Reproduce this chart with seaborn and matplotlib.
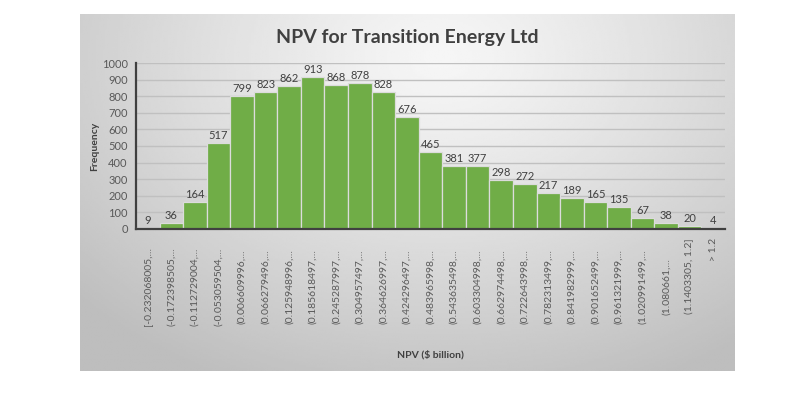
import numpy as np
import pandas as pd
import matplotlib
matplotlib.use("Agg")
import matplotlib.pyplot as plt
import matplotlib.transforms as mtransforms
import seaborn as sns

bins = ["[-0.232068005,...", "(-0.172398505,...", "(-0.112729004,...", "(-0.053059504,...",
        "(0.006609996,...", "(0.066279496,...", "(0.125948996,...", "(0.185618497,...",
        "(0.245287997,...", "(0.304957497,...", "(0.364626997,...", "(0.424296497,...",
        "(0.483965998,...", "(0.543635498,...", "(0.603304998,...", "(0.662974498,...",
        "(0.722643998,...", "(0.782313499,...", "(0.841982999,...", "(0.901652499,...",
        "(0.961321999,...", "(1.020991499,...", "(1.080661,...", "(1.1403305, 1.2]", "> 1.2"]
freq = [9, 36, 164, 517, 799, 823, 862, 913, 868, 878, 828, 676,
        465, 381, 377, 298, 272, 217, 189, 165, 135, 67, 38, 20, 4]

title = "NPV for Transition Energy Ltd"
xlabel = "NPV ($ billion)"
ylabel = "Frequency"

sns.set_theme(style="white")
plt.rcParams['font.family'] = ['Lato', 'DejaVu Sans']

W, H = 793, 397
fig = plt.figure(figsize=(W / 100, H / 100), dpi=100)
fig.patch.set_facecolor("white")

# gradient background panel
bx0, bx1, by0, by1 = 80, 735, 14, 371
bg = fig.add_axes([bx0 / W, 1 - by1 / H, (bx1 - bx0) / W, (by1 - by0) / H])
gx, gy = np.meshgrid(np.linspace(0, 1, 300), np.linspace(0, 1, 200))
r = np.sqrt(((gx - 0.55) / 0.75) ** 2 + ((gy - 0.12) / 1.0) ** 2)
r = np.clip(r, 0, 1)
val = 0.965 - (0.965 - 0.745) * r ** 1.2
bg.imshow(val, cmap="gray", vmin=0, vmax=1, aspect="auto", extent=[0, 1, 1, 0],
          interpolation="bilinear")
bg.set_axis_off()

# main axes
ax_l, ax_r, ax_b, ax_t = 136, 725, 229, 63
ax = fig.add_axes([ax_l / W, 1 - ax_b / H, (ax_r - ax_l) / W, (ax_b - ax_t) / H])
ax.patch.set_alpha(0)

df = pd.DataFrame({"bin": bins, "freq": freq})
sns.barplot(data=df, x="bin", y="freq", order=bins, color="#70ad47", saturation=1,
            width=1.0, edgecolor="#dcdcdc", linewidth=0.9, ax=ax, zorder=3)

ax.set_xlim(-0.5, len(bins) - 0.5)
ax.set_ylim(0, 1000)
ax.set_yticks(range(0, 1001, 100))
ax.yaxis.grid(True, color="#c0c0c0", linewidth=1.0, zorder=0)
ax.set_axisbelow(True)
for s in ["top", "right"]:
    ax.spines[s].set_visible(False)
ax.spines["left"].set_color("#404040")
ax.spines["left"].set_linewidth(1.6)
ax.spines["bottom"].set_color("#404040")
ax.spines["bottom"].set_linewidth(1.6)
ax.spines["bottom"].set_zorder(5)
ax.tick_params(axis="y", length=0, pad=6, labelsize=8, labelcolor="#595959")
ax.tick_params(axis="x", length=0, labelbottom=False)
ax.set_xlabel("")
ax.set_ylabel("")

# data labels
for i, v in enumerate(freq):
    ax.text(i, v + 12, str(v), ha="center", va="bottom", fontsize=8,
            color="#404040", zorder=6)

# category labels
tr = mtransforms.blended_transform_factory(ax.transData, ax.transAxes)
for i, lab in enumerate(bins):
    if i >= len(bins) - 2:
        ax.text(i, -0.054, lab, rotation=90, ha="center", va="top", fontsize=7.5,
                color="#595959", transform=tr)
    else:
        ax.text(i, -0.349, lab, rotation=90, ha="center", va="center", fontsize=7.5,
                color="#595959", transform=tr)

fig.text((bx0 + bx1) / 2 / W, 1 - 37 / H, title, ha="center", va="center",
         fontsize=14, fontweight="bold", color="#404040")
fig.text(430 / W, 1 - 355 / H, xlabel, ha="center", va="center",
         fontsize=7.5, fontweight="bold", color="#404040")
fig.text(95 / W, 1 - 146 / H, ylabel, ha="center", va="center", rotation=90,
         fontsize=7.5, fontweight="bold", color="#404040")

fig.savefig("out.png", dpi=100)
